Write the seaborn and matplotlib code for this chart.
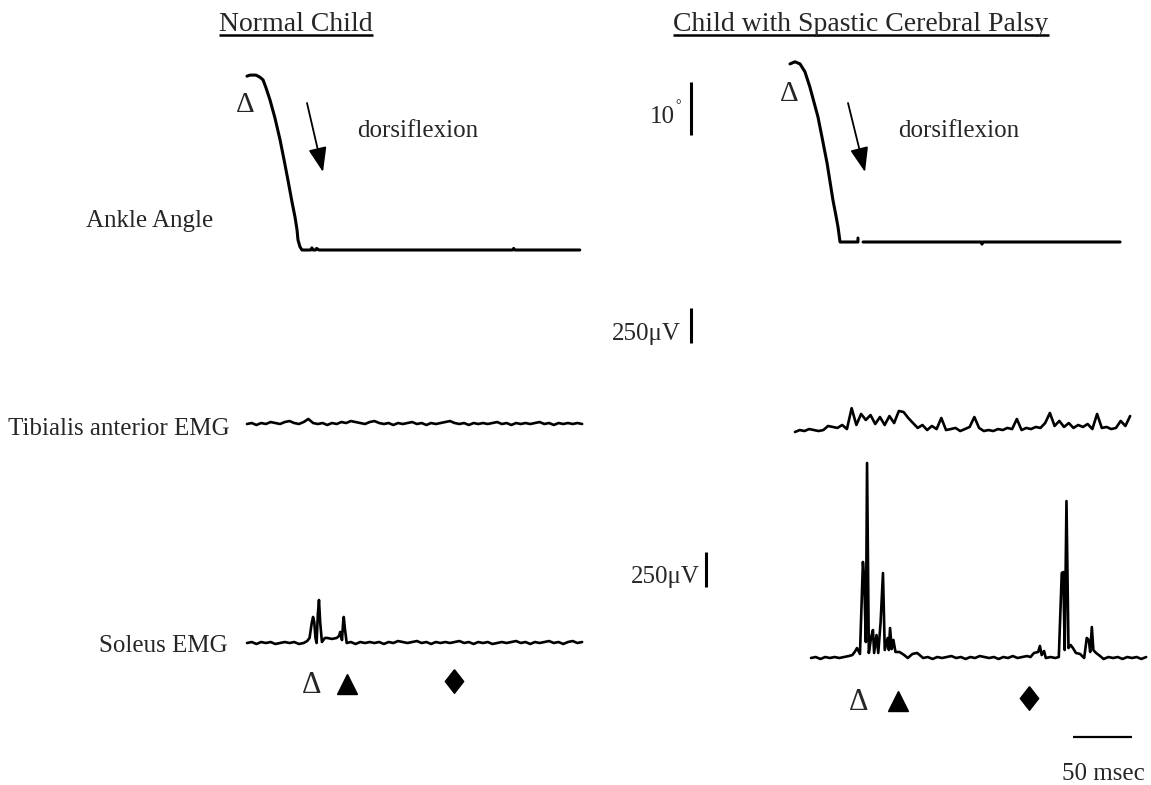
import numpy as np
import matplotlib
matplotlib.use("Agg")
import matplotlib.pyplot as plt
import seaborn as sns
from matplotlib.transforms import blended_transform_factory

sns.set_style("white")
plt.rcParams["font.family"] = ["Liberation Serif", "DejaVu Serif"]

# ---------------- data (time in ms, angle in degrees, EMG in microvolts) ----------------
titles = ["Normal Child", "Child with Spastic Cerebral Palsy"]
row_labels = ["Ankle Angle", "Tibialis anterior EMG", "Soleus EMG"]

left_angle_t = [0, 2.5, 7.6, 11.0, 13.6, 16.1, 19.5, 23.7, 28.0, 31.4, 34.7, 38.1, 40.7, 42.4, 43.2,
                44.9, 46.6, 54, 55, 56, 58, 59, 61, 225, 226, 227, 282]
left_angle_v = [32.8, 33.0, 33.0, 32.6, 32.1, 30.6, 28.3, 24.9, 20.8, 17.0, 13.2, 9.1, 6.2, 3.8, 1.9,
                0.6, 0, 0, 0.4, 0, 0, 0.3, 0, 0, 0.3, 0, 0]

right_angle_t1 = [0, 4.2, 8.5, 12.7, 16.9, 20.3, 23.7, 27.1, 31.4, 33.9, 36.4, 39.0, 40.7, 42.4, 57.6, 57.6]
right_angle_v1 = [33.6, 34.0, 33.6, 32.1, 29.2, 26.4, 23.6, 19.8, 14.9, 11.4, 7.9, 4.9, 2.8, 0, 0, 0.75]
right_angle_t2 = [61.9, 162, 162.7, 163.4, 279.7]
right_angle_v2 = [0, 0, -0.4, 0, 0]

ta_step = 4  # ms between samples
left_ta = [0, 7, -7, 7, 0, 14, 7, 0, 14, 21, 7, 0, 14, 36, 7, 0, 7, -7, 7, 0, 14, 7, 21, 14,
           7, 0, 14, 21, 7, 0, 7, -7, 7, 0, 7, 14, 0, 7, -7, 7, 0, 7, 14, 21, 7, 0, 7, -7,
           7, 0, 7, 0, 7, 14, 0, 7, -7, 7, 0, 7, 0, 7, 14, 0, 7, -7, 7, 0, 7, 0, 7, 0]
right_ta = [0, 14, 7, 21, 14, 7, 14, 43, 36, 29, 50, 21, 170, 50, 129, 86, 121, 57, 107, 50,
            114, 64, 150, 143, 100, 64, 29, 50, 14, 43, 21, 100, 14, 21, 29, 7, 21, 36, 107, 29,
            7, 14, 7, 21, 14, 29, 21, 93, 14, 29, 21, 36, 29, 64, 136, 43, 79, 36, 64, 29,
            50, 36, 57, 21, 129, 29, 36, 21, 29, 79, 43, 114]

left_sol_t = [0, 4, 8, 12, 16, 20, 24, 28, 32, 36, 40, 44, 48,
              51, 53, 55, 56, 57, 58, 59, 60, 61, 62, 63.5, 66, 68, 72, 76, 78, 79, 80.5, 81.5, 82, 83, 84.5,
              88, 92, 96, 100, 104, 108, 112, 116, 120, 124, 128, 132, 136, 140, 144, 148, 152, 156, 160,
              164, 168, 172, 176, 180, 184, 188, 192, 196, 200, 204, 208, 212, 216, 220, 224, 228, 232,
              236, 240, 244, 248, 252, 256, 260, 264, 268, 272, 276, 280, 284]
left_sol_v = [0, 7, -7, 7, 0, 7, -7, 0, 7, 0, 7, -7, 0,
              14, 36, 150, 186, 150, 36, 0, 200, 307, 150, 7, 36, 36, 29, 36, 50, 79, 21, 150, 186, 100, 0,
              7, -7, 7, 0, 7, 0, 7, -7, 7, 0, 14, 7, 0, 7, 14, 0, 7, -7, 7,
              0, 7, 0, 7, 14, 0, 7, -7, 7, 0, 7, -7, 0, 7, 0, 7, 14, 0,
              7, -7, 7, 0, 7, 14, 0, 7, -7, 7, 14, 0, 7]

right_sol_t = [0, 4, 8, 12, 16, 20, 24, 28, 32, 35, 37, 39, 41.5, 44, 45, 46.5, 47.5, 49, 51, 52.5,
               53.5, 55.5, 57, 59, 61, 62.5, 65, 66, 67, 68.4, 69.8, 71.6, 75, 79, 82, 86, 90, 95,
               99, 103, 107, 111, 115, 119, 123, 127, 131, 135, 139, 143, 147, 151, 155, 159, 163,
               167, 171, 175, 179, 183, 186, 189, 192.5, 194, 195.5, 197.5, 199, 203, 207, 210,
               212.5, 213.8, 215, 216.5, 218.2, 220, 222, 224.5, 228, 231.5, 233.7, 235.4, 236.6,
               238, 239.3, 241.6, 245, 248, 252, 256, 260, 264, 268, 272, 276, 280, 284]
right_sol_v = [0, 7, -7, 7, 0, 7, 0, 7, 14, 21, 43, 71, 29, 686, 579, 114, 1393, 36, 150, 200,
               36, 164, 36, 257, 607, 57, 143, 57, 214, 64, 129, 43, 43, 21, 0, 29, 36, 0,
               7, -7, 7, 0, 7, 14, 0, 7, -7, 7, 0, 14, 7, 0, 7, -7, 7,
               0, 14, 0, 7, 14, 7, 36, 43, 86, 21, 50, 0, 7, 0, 7,
               607, 614, 57, 1121, 71, 93, 71, 36, 29, 0, 143, 129, 43,
               221, 57, 36, 14, -7, 7, 0, 7, -7, 7, 0, 7, -7, 7]

event_symbols = ["Δ", "▲", "♦"]
left_events = [55, 85, 175]
right_events = [40.7, 73.7, 184.7]

# ---------------- layout ----------------
W, H = 1151, 785
PX_MS = 1.18          # pixels per millisecond
PX_DEG = 5.3          # pixels per degree
PX_UV = 35 / 250      # pixels per microvolt

fig = plt.figure(figsize=(W / 100, H / 100), dpi=100)
ov = fig.add_axes([0, 0, 1, 1])
ov.set_xlim(0, W)
ov.set_ylim(H, 0)
ov.axis("off")


def trace(segments, x0, y0, py, lw):
    ax = fig.add_axes([0, 0, 1, 1], facecolor="none")
    for t, v in segments:
        sns.lineplot(x=t, y=v, ax=ax, color="black", lw=lw, estimator=None, sort=False,
                     solid_joinstyle="round")
    ax.set_xlim(-x0 / PX_MS, (W - x0) / PX_MS)
    ax.set_ylim((y0 - H) / py, y0 / py)
    ax.axis("off")
    return ax


trace([(left_angle_t, left_angle_v)], 247, 250, PX_DEG, 2.2)
trace([(right_angle_t1, right_angle_v1), (right_angle_t2, right_angle_v2)], 790, 242, PX_DEG, 2.2)
trace([(np.arange(len(left_ta)) * ta_step, left_ta)], 247, 424, PX_UV, 1.9)
trace([(np.arange(len(right_ta)) * ta_step, right_ta)], 795, 432, PX_UV, 1.9)
ax_ls = trace([(left_sol_t, left_sol_v)], 247, 643, PX_UV, 1.9)
ax_rs = trace([(right_sol_t, right_sol_v)], 811, 658, PX_UV, 1.9)

# event markers below soleus traces
diamond = [(0, 1), (0.78, 0), (0, -1), (-0.78, 0), (0, 1)]
for ax, ev, ybase in [(ax_ls, left_events, 693), (ax_rs, right_events, 710)]:
    tr = blended_transform_factory(ax.transData, ov.transData)
    ax.text(ev[0], ybase, event_symbols[0], transform=tr, ha="center", va="baseline", fontsize=22)
    ax.plot([ev[1]], [ybase - 9], marker="^", ms=14.5, color="black", transform=tr, clip_on=False)
    ax.plot([ev[2]], [ybase - 12], marker=diamond, ms=17, color="black", transform=tr, clip_on=False)

# titles (underlined)
title_objs = [ov.text(296, 31, titles[0], ha="center", va="baseline", fontsize=20),
              ov.text(861, 31, titles[1], ha="center", va="baseline", fontsize=20)]

# row labels
ov.text(213, 227, row_labels[0], ha="right", va="baseline", fontsize=18)
ov.text(230, 435, row_labels[1], ha="right", va="baseline", fontsize=18)
ov.text(228, 652, row_labels[2], ha="right", va="baseline", fontsize=18)

# stretch onset marks and dorsiflexion arrows
ov.text(245, 112, "Δ", ha="center", va="baseline", fontsize=21)
ov.text(789, 101, "Δ", ha="center", va="baseline", fontsize=21)
for (xs, ys, xe, ye, xt) in [(307, 103, 323, 172, 357), (848, 103, 865, 172, 898)]:
    ov.annotate("", xy=(xe, ye), xytext=(xs, ys),
                arrowprops=dict(arrowstyle="-|>,head_length=0.75,head_width=0.28",
                                lw=1.3, color="black", mutation_scale=20,
                                shrinkA=0, shrinkB=0))
    ov.text(xt, 137, "dorsiflexion", ha="left", va="baseline", fontsize=18)

# scale bars
ov.plot([691, 691], [135, 135 - 10 * PX_DEG], color="black", lw=2.2, solid_capstyle="butt")
ov.text(675, 123, "10", ha="right", va="baseline", fontsize=18)
ov.text(675.5, 109, "°", ha="left", va="baseline", fontsize=10)
ov.plot([691, 691], [343, 343 - 250 * PX_UV], color="black", lw=2.2, solid_capstyle="butt")
ov.text(681, 340, "250μV", ha="right", va="baseline", fontsize=18)
ov.plot([706, 706], [587, 587 - 250 * PX_UV], color="black", lw=2.2, solid_capstyle="butt")
ov.text(700, 583, "250μV", ha="right", va="baseline", fontsize=18)
ov.plot([1073, 1073 + 50 * PX_MS], [737, 737], color="black", lw=1.6, solid_capstyle="butt")
ov.text(1103, 780, "50 msec", ha="center", va="baseline", fontsize=18)

# underline titles
fig.canvas.draw()
renderer = fig.canvas.get_renderer()
inv = ov.transData.inverted()
for t in title_objs:
    bb = t.get_window_extent(renderer)
    xa, _ = inv.transform((bb.x0, bb.y0))
    xb, _ = inv.transform((bb.x1, bb.y0))
    ov.plot([xa, xb], [35, 35], color="black", lw=1.8, solid_capstyle="butt")

fig.savefig("out.png", dpi=100)
